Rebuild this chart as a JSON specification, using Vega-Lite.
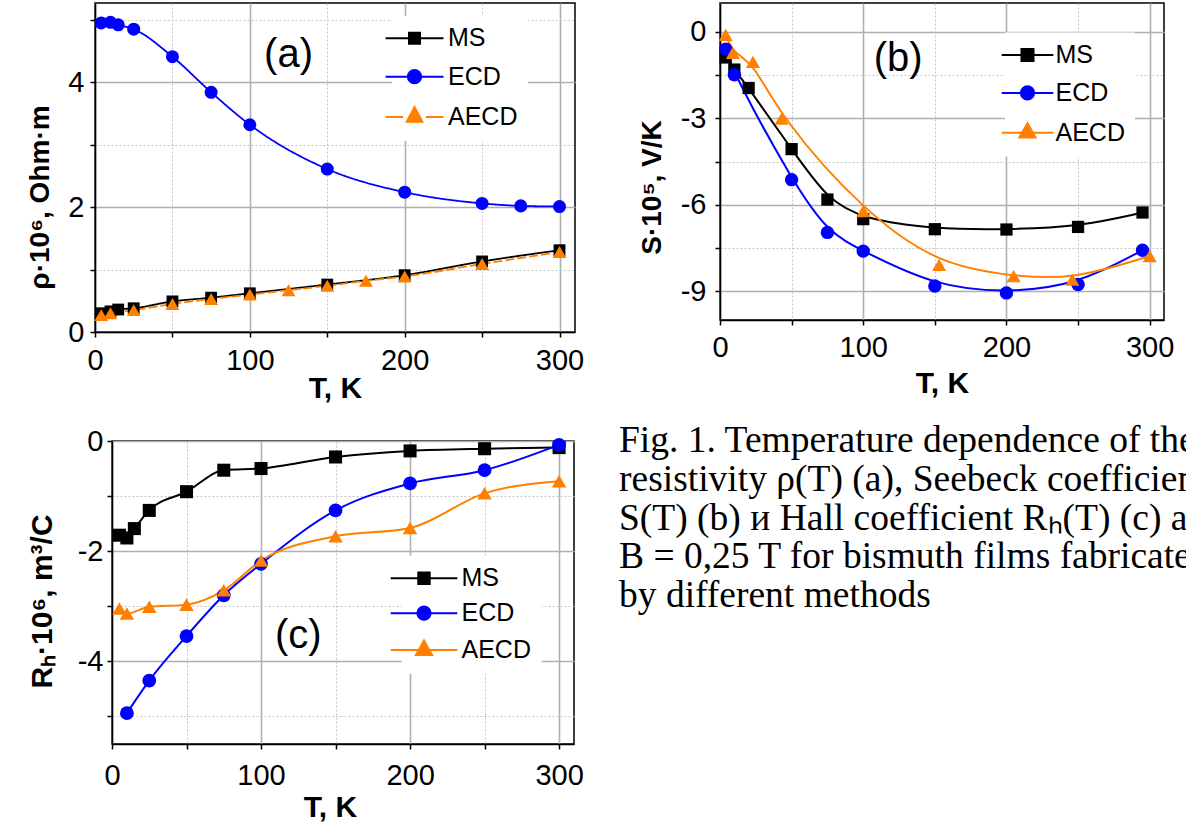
{
  "$schema": "https://vega.github.io/schema/vega-lite/v6.json",
  "usermeta": {"embedOptions": {"actions": false}},
  "background": "white",
  "padding": {"left": 25, "top": 2, "right": 0, "bottom": 0},
  "config": {
    "view": {"stroke": "black", "strokeWidth": 1.5},
    "axis": {
      "domainColor": "black", "domainWidth": 1.5, "tickColor": "black", "tickWidth": 1.5, "tickSize": 5,
      "labelFont": "Liberation Sans", "labelFontSize": 29, "labelColor": "black",
      "titleFont": "Liberation Sans", "titleFontSize": 30, "titleFontWeight": "bold", "titleColor": "black",
      "grid": true, "labelOverlap": false, "labelFlush": false
    },
    "legend": {"labelFont": "Liberation Sans", "labelFontSize": 25, "labelColor": "black", "fillColor": "white"}
  },
  "datasets": {
    "rho": [
      {"series": "MS", "T": 4, "v": 0.30}, {"series": "MS", "T": 10, "v": 0.33}, {"series": "MS", "T": 15, "v": 0.36},
      {"series": "MS", "T": 25, "v": 0.38}, {"series": "MS", "T": 50, "v": 0.49}, {"series": "MS", "T": 75, "v": 0.55},
      {"series": "MS", "T": 100, "v": 0.62}, {"series": "MS", "T": 150, "v": 0.76}, {"series": "MS", "T": 200, "v": 0.91},
      {"series": "MS", "T": 250, "v": 1.13}, {"series": "MS", "T": 300, "v": 1.31},
      {"series": "ECD", "T": 4, "v": 4.95}, {"series": "ECD", "T": 10, "v": 4.96}, {"series": "ECD", "T": 15, "v": 4.92},
      {"series": "ECD", "T": 25, "v": 4.85}, {"series": "ECD", "T": 50, "v": 4.41}, {"series": "ECD", "T": 75, "v": 3.84},
      {"series": "ECD", "T": 100, "v": 3.32}, {"series": "ECD", "T": 150, "v": 2.61}, {"series": "ECD", "T": 200, "v": 2.24},
      {"series": "ECD", "T": 250, "v": 2.06}, {"series": "ECD", "T": 275, "v": 2.02}, {"series": "ECD", "T": 300, "v": 2.01},
      {"series": "AECD", "T": 4, "v": 0.27}, {"series": "AECD", "T": 10, "v": 0.30}, {"series": "AECD", "T": 25, "v": 0.35},
      {"series": "AECD", "T": 50, "v": 0.45}, {"series": "AECD", "T": 75, "v": 0.53}, {"series": "AECD", "T": 100, "v": 0.60},
      {"series": "AECD", "T": 125, "v": 0.67}, {"series": "AECD", "T": 150, "v": 0.74}, {"series": "AECD", "T": 175, "v": 0.82},
      {"series": "AECD", "T": 200, "v": 0.89}, {"series": "AECD", "T": 250, "v": 1.09}, {"series": "AECD", "T": 300, "v": 1.28}
    ],
    "seebeck": [
      {"series": "MS", "T": 4, "v": -0.89}, {"series": "MS", "T": 10, "v": -1.31}, {"series": "MS", "T": 20, "v": -1.95},
      {"series": "MS", "T": 50, "v": -4.07}, {"series": "MS", "T": 75, "v": -5.82}, {"series": "MS", "T": 100, "v": -6.50},
      {"series": "MS", "T": 150, "v": -6.85}, {"series": "MS", "T": 200, "v": -6.86}, {"series": "MS", "T": 250, "v": -6.77},
      {"series": "MS", "T": 295, "v": -6.27},
      {"series": "ECD", "T": 4, "v": -0.60}, {"series": "ECD", "T": 10, "v": -1.49}, {"series": "ECD", "T": 50, "v": -5.13},
      {"series": "ECD", "T": 75, "v": -6.96}, {"series": "ECD", "T": 100, "v": -7.61}, {"series": "ECD", "T": 150, "v": -8.82},
      {"series": "ECD", "T": 200, "v": -9.06}, {"series": "ECD", "T": 250, "v": -8.77}, {"series": "ECD", "T": 295, "v": -7.58},
      {"series": "AECD", "T": 4, "v": -0.11}, {"series": "AECD", "T": 9, "v": -0.73}, {"series": "AECD", "T": 23, "v": -1.04},
      {"series": "AECD", "T": 43, "v": -3.01}, {"series": "AECD", "T": 100, "v": -6.22}, {"series": "AECD", "T": 153, "v": -8.09},
      {"series": "AECD", "T": 205, "v": -8.48}, {"series": "AECD", "T": 246, "v": -8.60}, {"series": "AECD", "T": 300, "v": -7.78}
    ],
    "hall": [
      {"series": "MS", "T": 5, "v": -1.71}, {"series": "MS", "T": 10, "v": -1.76}, {"series": "MS", "T": 15, "v": -1.59},
      {"series": "MS", "T": 25, "v": -1.26}, {"series": "MS", "T": 50, "v": -0.92}, {"series": "MS", "T": 75, "v": -0.53},
      {"series": "MS", "T": 100, "v": -0.50}, {"series": "MS", "T": 150, "v": -0.29}, {"series": "MS", "T": 200, "v": -0.18},
      {"series": "MS", "T": 250, "v": -0.14}, {"series": "MS", "T": 300, "v": -0.12},
      {"series": "ECD", "T": 10, "v": -4.94}, {"series": "ECD", "T": 25, "v": -4.35}, {"series": "ECD", "T": 50, "v": -3.54},
      {"series": "ECD", "T": 75, "v": -2.80}, {"series": "ECD", "T": 100, "v": -2.23}, {"series": "ECD", "T": 150, "v": -1.26},
      {"series": "ECD", "T": 200, "v": -0.77}, {"series": "ECD", "T": 250, "v": -0.53}, {"series": "ECD", "T": 300, "v": -0.07},
      {"series": "AECD", "T": 5, "v": -3.04}, {"series": "AECD", "T": 10, "v": -3.13}, {"series": "AECD", "T": 25, "v": -3.01},
      {"series": "AECD", "T": 50, "v": -2.97}, {"series": "AECD", "T": 75, "v": -2.71}, {"series": "AECD", "T": 100, "v": -2.17},
      {"series": "AECD", "T": 150, "v": -1.73}, {"series": "AECD", "T": 200, "v": -1.58}, {"series": "AECD", "T": 250, "v": -0.95},
      {"series": "AECD", "T": 300, "v": -0.73}
    ],
    "caption": [
      {"line": 0, "text": "Fig. 1. Temperature dependence of the"},
      {"line": 1, "text": "resistivity ρ(T) (a), Seebeck coefficient"},
      {"line": 2, "text": "S(T) (b) и Hall coefficient Rₕ(T) (c) at"},
      {"line": 3, "text": "B = 0,25 T for bismuth films fabricated"},
      {"line": 4, "text": "by different methods"}
    ]
  },
  "resolve": {"scale": {"color": "independent"}, "legend": {"color": "independent"}},
  "columns": 1,
  "align": "none",
  "spacing": 17,
  "concat": [
    {
      "spacing": 52,
      "resolve": {"scale": {"color": "independent"}, "legend": {"color": "independent"}},
      "hconcat": [
        {
          "width": 480, "height": 329,
          "data": {"name": "rho"},
          "layer": [
            {
              "mark": {"type": "line", "interpolate": "monotone", "strokeWidth": 1.8},
              "encoding": {
                "x": {"field": "T", "type": "quantitative", "scale": {"domain": [0, 310], "nice": false, "zero": false},
                  "axis": {"values": [0, 50, 100, 150, 200, 250, 300], "labelExpr": "datum.value % 100 === 0 ? '' + datum.value : ''",
                    "title": "T, K", "titleY": 56.5, "titleBaseline": "middle", "labelPadding": 9,
                    "gridDash": {"condition": {"test": "datum.value % 100 !== 0", "value": [2, 2]}, "value": []},
                    "gridColor": {"condition": {"test": "datum.value % 100 !== 0", "value": "#c4c4c4"}, "value": "#b0b0b0"},
                    "gridWidth": {"condition": {"test": "datum.value % 100 !== 0", "value": 1}, "value": 1.6}}},
                "y": {"field": "v", "type": "quantitative", "scale": {"domain": [0, 5.27], "nice": false, "zero": false},
                  "axis": {"values": [0, 1, 2, 3, 4, 5], "labelExpr": "datum.value % 2 === 0 ? '' + datum.value : ''",
                    "title": "ρ·10⁶, Ohm·m", "titleX": -55, "titleY": 194, "titleAngle": 270, "titleAlign": "center", "titleBaseline": "middle", "titleFontSize": 28,
                    "labelPadding": 6,
                    "gridDash": {"condition": {"test": "datum.value % 2 !== 0", "value": [2, 2]}, "value": []},
                    "gridColor": {"condition": {"test": "datum.value % 2 !== 0", "value": "#c4c4c4"}, "value": "#b0b0b0"},
                    "gridWidth": {"condition": {"test": "datum.value % 2 !== 0", "value": 1}, "value": 1.6}}},
                "color": {"field": "series", "type": "nominal", "scale": {"domain": ["MS", "ECD", "AECD"], "range": ["#000000", "#0000ff", "#ff8000"]},
                  "legend": {"orient": "none", "legendX": 297, "legendY": 12.8, "title": null, "labelOffset": 21, "rowPadding": 12.4,
                    "symbolSize": 144, "symbolStrokeWidth": 2, "padding": 10,
                    "encode": {"symbols": {"update": {
                      "shape": {"signal": "datum.value === 'MS' ? 'M-4.83,0H4.83M-0.92,-0.92H0.92V0.92H-0.92Z' : datum.value === 'ECD' ? 'M-4.83,0H4.83M-1.1,0A1.1,1.1,0,1,1,1.1,0A1.1,1.1,0,1,1,-1.1,0Z' : 'M-4.83,0H-1.9M1.9,0H4.83M0,-1.67L1.3,0.78H-1.3Z'"},
                      "fill": {"signal": "datum.value === 'MS' ? '#000000' : datum.value === 'ECD' ? '#0000ff' : '#ff8000'"},
                      "stroke": {"signal": "datum.value === 'MS' ? '#000000' : datum.value === 'ECD' ? '#0000ff' : '#ff8000'"},
                      "strokeWidth": {"value": 2}, "size": {"value": 144}, "opacity": {"value": 1}}}}}},
                "strokeDash": {"field": "series", "type": "nominal", "scale": {"domain": ["MS", "ECD", "AECD"], "range": [[1, 0], [1, 0], [9, 3]]}, "legend": null}
              }
            },
            {
              "transform": [{"filter": "datum.series === 'MS'"}],
              "mark": {"type": "point", "filled": true, "opacity": 1, "shape": "square", "size": 140},
              "encoding": {"x": {"field": "T", "type": "quantitative"}, "y": {"field": "v", "type": "quantitative"}, "color": {"field": "series", "type": "nominal"}}
            },
            {
              "transform": [{"filter": "datum.series === 'ECD'"}],
              "mark": {"type": "point", "filled": true, "opacity": 1, "shape": "circle", "size": 170},
              "encoding": {"x": {"field": "T", "type": "quantitative"}, "y": {"field": "v", "type": "quantitative"}, "color": {"field": "series", "type": "nominal"}}
            },
            {
              "transform": [{"filter": "datum.series === 'AECD'"}],
              "mark": {"type": "point", "filled": true, "opacity": 1, "shape": "triangle-up", "size": 190},
              "encoding": {"x": {"field": "T", "type": "quantitative"}, "y": {"field": "v", "type": "quantitative"}, "color": {"field": "series", "type": "nominal"}}
            },
            {
              "data": {"values": [{}]},
              "mark": {"type": "text", "font": "Liberation Sans", "fontSize": 40, "align": "center", "baseline": "middle", "color": "black"},
              "encoding": {"x": {"datum": 125}, "y": {"datum": 4.44}, "text": {"value": "(a)"}}
            }
          ]
        },
        {
          "width": 444, "height": 317,
          "data": {"name": "seebeck"},
          "layer": [
            {
              "mark": {"type": "line", "interpolate": "basis", "strokeWidth": 2},
              "encoding": {
                "x": {"field": "T", "type": "quantitative", "scale": {"domain": [0, 310], "nice": false, "zero": false},
                  "axis": {"values": [0, 50, 100, 150, 200, 250, 300], "labelExpr": "datum.value % 100 === 0 ? '' + datum.value : ''",
                    "title": "T, K", "titleY": 63, "titleBaseline": "middle", "labelPadding": 8,
                    "gridDash": {"condition": {"test": "datum.value % 100 !== 0", "value": [2, 2]}, "value": []},
                    "gridColor": {"condition": {"test": "datum.value % 100 !== 0", "value": "#c4c4c4"}, "value": "#b0b0b0"},
                    "gridWidth": {"condition": {"test": "datum.value % 100 !== 0", "value": 1}, "value": 1.6}}},
                "y": {"field": "v", "type": "quantitative", "scale": {"domain": [-10, 1], "nice": false, "zero": false},
                  "axis": {"values": [-9, -7.5, -6, -4.5, -3, -1.5, 0], "labelExpr": "datum.value % 3 === 0 ? '' + datum.value : ''",
                    "title": "S·10⁵, V/K", "titleX": -68, "titleY": 184, "titleAngle": 270, "titleAlign": "center", "titleBaseline": "middle", "titleFontSize": 28,
                    "labelPadding": 9,
                    "gridDash": {"condition": {"test": "datum.value % 3 !== 0", "value": [2, 2]}, "value": []},
                    "gridColor": {"condition": {"test": "datum.value % 3 !== 0", "value": "#c4c4c4"}, "value": "#b0b0b0"},
                    "gridWidth": {"condition": {"test": "datum.value % 3 !== 0", "value": 1}, "value": 1.6}}},
                "color": {"field": "series", "type": "nominal", "scale": {"domain": ["MS", "ECD", "AECD"], "range": ["#000000", "#0000ff", "#ff8000"]},
                  "legend": {"orient": "none", "legendX": 285, "legendY": 29.5, "title": null, "labelOffset": 15.5, "rowPadding": 11.9,
                    "symbolSize": 144, "symbolStrokeWidth": 2, "padding": 10,
                    "encode": {"symbols": {"update": {
                      "shape": {"signal": "datum.value === 'MS' ? 'M-4.3,0H4.3M-1,-1H1V1H-1Z' : datum.value === 'ECD' ? 'M-4.3,0H4.3M-1.1,0A1.1,1.1,0,1,1,1.1,0A1.1,1.1,0,1,1,-1.1,0Z' : 'M-4.3,0H4.3M0,-1.6L1.35,0.8H-1.35Z'"},
                      "fill": {"signal": "datum.value === 'MS' ? '#000000' : datum.value === 'ECD' ? '#0000ff' : '#ff8000'"},
                      "stroke": {"signal": "datum.value === 'MS' ? '#000000' : datum.value === 'ECD' ? '#0000ff' : '#ff8000'"},
                      "strokeWidth": {"value": 2}, "size": {"value": 144}, "opacity": {"value": 1}}}}}}
              }
            },
            {
              "transform": [{"filter": "datum.series === 'MS'"}],
              "mark": {"type": "point", "filled": true, "opacity": 1, "shape": "square", "size": 150},
              "encoding": {"x": {"field": "T", "type": "quantitative"}, "y": {"field": "v", "type": "quantitative"}, "color": {"field": "series", "type": "nominal"}}
            },
            {
              "transform": [{"filter": "datum.series === 'ECD'"}],
              "mark": {"type": "point", "filled": true, "opacity": 1, "shape": "circle", "size": 180},
              "encoding": {"x": {"field": "T", "type": "quantitative"}, "y": {"field": "v", "type": "quantitative"}, "color": {"field": "series", "type": "nominal"}}
            },
            {
              "transform": [{"filter": "datum.series === 'AECD'"}],
              "mark": {"type": "point", "filled": true, "opacity": 1, "shape": "triangle-up", "size": 200},
              "encoding": {"x": {"field": "T", "type": "quantitative"}, "y": {"field": "v", "type": "quantitative"}, "color": {"field": "series", "type": "nominal"}}
            },
            {
              "data": {"values": [{}]},
              "mark": {"type": "text", "font": "Liberation Sans", "fontSize": 40, "align": "center", "baseline": "middle", "color": "black"},
              "encoding": {"x": {"datum": 124.4}, "y": {"datum": -0.96}, "text": {"value": "(b)"}}
            }
          ]
        }
      ]
    },
    {
      "spacing": -70,
      "resolve": {"scale": {"color": "independent"}, "legend": {"color": "independent"}},
      "hconcat": [
        {
          "width": 1, "height": 1,
          "view": {"stroke": null},
          "data": {"values": [{}]},
          "mark": {"type": "text"},
          "encoding": {"text": {"value": ""}}
        },
        {
          "spacing": 34,
          "resolve": {"scale": {"color": "independent"}, "legend": {"color": "independent"}},
          "hconcat": [
            {
              "width": 462, "height": 303,
              "data": {"name": "hall"},
              "layer": [
                {
                  "mark": {"type": "line", "interpolate": "monotone", "strokeWidth": 2},
                  "encoding": {
                    "x": {"field": "T", "type": "quantitative", "scale": {"domain": [0, 310], "nice": false, "zero": false},
                      "axis": {"values": [0, 50, 100, 150, 200, 250, 300], "labelExpr": "datum.value % 100 === 0 ? '' + datum.value : ''",
                        "title": "T, K", "titleY": 63, "titleX": 218, "titleBaseline": "middle", "labelPadding": 12,
                        "gridDash": {"condition": {"test": "datum.value % 100 !== 0", "value": [2, 2]}, "value": []},
                        "gridColor": {"condition": {"test": "datum.value % 100 !== 0", "value": "#c4c4c4"}, "value": "#b0b0b0"},
                        "gridWidth": {"condition": {"test": "datum.value % 100 !== 0", "value": 1}, "value": 1.6}}},
                    "y": {"field": "v", "type": "quantitative", "scale": {"domain": [-5.5, 0], "nice": false, "zero": false},
                      "axis": {"values": [-5, -4, -3, -2, -1, 0], "labelExpr": "datum.value % 2 === 0 ? '' + datum.value : ''",
                        "title": "Rₕ·10⁶, m³/C", "titleX": -70, "titleY": 160, "titleAngle": 270, "titleAlign": "center", "titleBaseline": "middle", "titleFontSize": 30,
                        "labelPadding": 4,
                        "gridDash": {"condition": {"test": "datum.value % 2 !== 0", "value": [2, 2]}, "value": []},
                        "gridColor": {"condition": {"test": "datum.value % 2 !== 0", "value": "#c4c4c4"}, "value": "#b0b0b0"},
                        "gridWidth": {"condition": {"test": "datum.value % 2 !== 0", "value": 1}, "value": 1.6}}},
                    "color": {"field": "series", "type": "nominal", "scale": {"domain": ["MS", "ECD", "AECD"], "range": ["#000000", "#0000ff", "#ff8000"]},
                      "legend": {"orient": "none", "legendX": 289.5, "legendY": 114.8, "title": null, "labelOffset": 25, "rowPadding": 8.9,
                        "symbolSize": 144, "symbolStrokeWidth": 2, "padding": 10,
                        "encode": {"symbols": {"update": {
                          "shape": {"signal": "datum.value === 'MS' ? 'M-5.55,0H5.55M-0.95,-0.95H0.95V0.95H-0.95Z' : datum.value === 'ECD' ? 'M-5.55,0H5.55M-1.1,0A1.1,1.1,0,1,1,1.1,0A1.1,1.1,0,1,1,-1.1,0Z' : 'M-5.55,0H5.55M0,-1.6L1.35,0.8H-1.35Z'"},
                          "fill": {"signal": "datum.value === 'MS' ? '#000000' : datum.value === 'ECD' ? '#0000ff' : '#ff8000'"},
                          "stroke": {"signal": "datum.value === 'MS' ? '#000000' : datum.value === 'ECD' ? '#0000ff' : '#ff8000'"},
                          "strokeWidth": {"value": 2}, "size": {"value": 144}, "opacity": {"value": 1}}}}}}
                  }
                },
                {
                  "transform": [{"filter": "datum.series === 'MS'"}],
                  "mark": {"type": "point", "filled": true, "opacity": 1, "shape": "square", "size": 170},
                  "encoding": {"x": {"field": "T", "type": "quantitative"}, "y": {"field": "v", "type": "quantitative"}, "color": {"field": "series", "type": "nominal"}}
                },
                {
                  "transform": [{"filter": "datum.series === 'ECD'"}],
                  "mark": {"type": "point", "filled": true, "opacity": 1, "shape": "circle", "size": 190},
                  "encoding": {"x": {"field": "T", "type": "quantitative"}, "y": {"field": "v", "type": "quantitative"}, "color": {"field": "series", "type": "nominal"}}
                },
                {
                  "transform": [{"filter": "datum.series === 'AECD'"}],
                  "mark": {"type": "point", "filled": true, "opacity": 1, "shape": "triangle-up", "size": 210},
                  "encoding": {"x": {"field": "T", "type": "quantitative"}, "y": {"field": "v", "type": "quantitative"}, "color": {"field": "series", "type": "nominal"}}
                },
                {
                  "data": {"values": [{}]},
                  "mark": {"type": "text", "font": "Liberation Sans", "fontSize": 40, "align": "center", "baseline": "middle", "color": "black"},
                  "encoding": {"x": {"datum": 125}, "y": {"datum": -3.54}, "text": {"value": "(c)"}}
                }
              ]
            },
            {
              "width": 540, "height": 200,
              "view": {"stroke": null},
              "data": {"name": "caption"},
              "mark": {"type": "text", "align": "left", "baseline": "alphabetic", "font": "Liberation Serif", "fontSize": 37.5, "color": "black"},
              "encoding": {
                "y": {"field": "line", "type": "quantitative", "scale": {"domain": [-0.2835, 4.871], "reverse": true, "nice": false, "zero": false}, "axis": null},
                "x": {"value": 0},
                "text": {"field": "text"}
              }
            }
          ]
        }
      ]
    }
  ]
}
